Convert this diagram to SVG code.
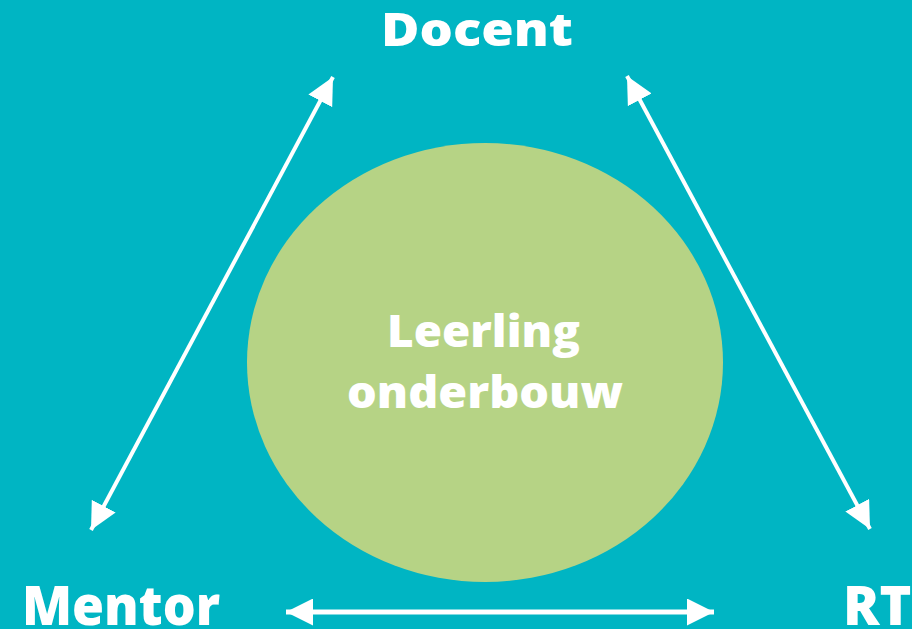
<svg xmlns="http://www.w3.org/2000/svg" width="912" height="629" viewBox="0 0 912 629">
  <defs>
    <style>
      .lbl { font-family: "Open Sans", "Liberation Sans", sans-serif; font-weight: 800; fill: #ffffff; }
      .conn { stroke: #ffffff; fill: none; }
    </style>
    <marker id="ah" viewBox="0 0 27 27" refX="27" refY="13.5" markerWidth="27" markerHeight="27" markerUnits="userSpaceOnUse" orient="auto-start-reverse">
      <path d="M0,0 L27,13.5 L0,27 z" fill="#ffffff"/>
    </marker>
  </defs>
  <rect x="0" y="0" width="912" height="629" fill="#00B5C3"/>
  <g id="leerling">
    <ellipse cx="485" cy="362.5" rx="238" ry="219.5" fill="#B6D385"/>
    <text class="lbl" x="483.5" y="347" font-size="44" text-anchor="middle" textLength="193" lengthAdjust="spacingAndGlyphs">Leerling</text>
    <text class="lbl" x="485" y="408" font-size="44" text-anchor="middle" textLength="276" lengthAdjust="spacingAndGlyphs">onderbouw</text>
  </g>
  <g id="docent">
    <text class="lbl" x="477" y="46" font-size="46" text-anchor="middle" textLength="192" lengthAdjust="spacingAndGlyphs">Docent</text>
  </g>
  <g id="mentor">
    <text class="lbl" x="22" y="625" font-size="54" textLength="198" lengthAdjust="spacingAndGlyphs">Mentor</text>
  </g>
  <g id="rt">
    <text class="lbl" x="843" y="625" font-size="54">RT</text>
  </g>
  <g id="connectors">
    <line class="conn" x1="91" y1="530" x2="333" y2="77" stroke-width="4" marker-start="url(#ah)" marker-end="url(#ah)"/>
    <line class="conn" x1="627" y1="76" x2="870" y2="529" stroke-width="4" marker-start="url(#ah)" marker-end="url(#ah)"/>
    <line class="conn" x1="286" y1="612" x2="714" y2="612" stroke-width="5" marker-start="url(#ah)" marker-end="url(#ah)"/>
  </g>
</svg>
